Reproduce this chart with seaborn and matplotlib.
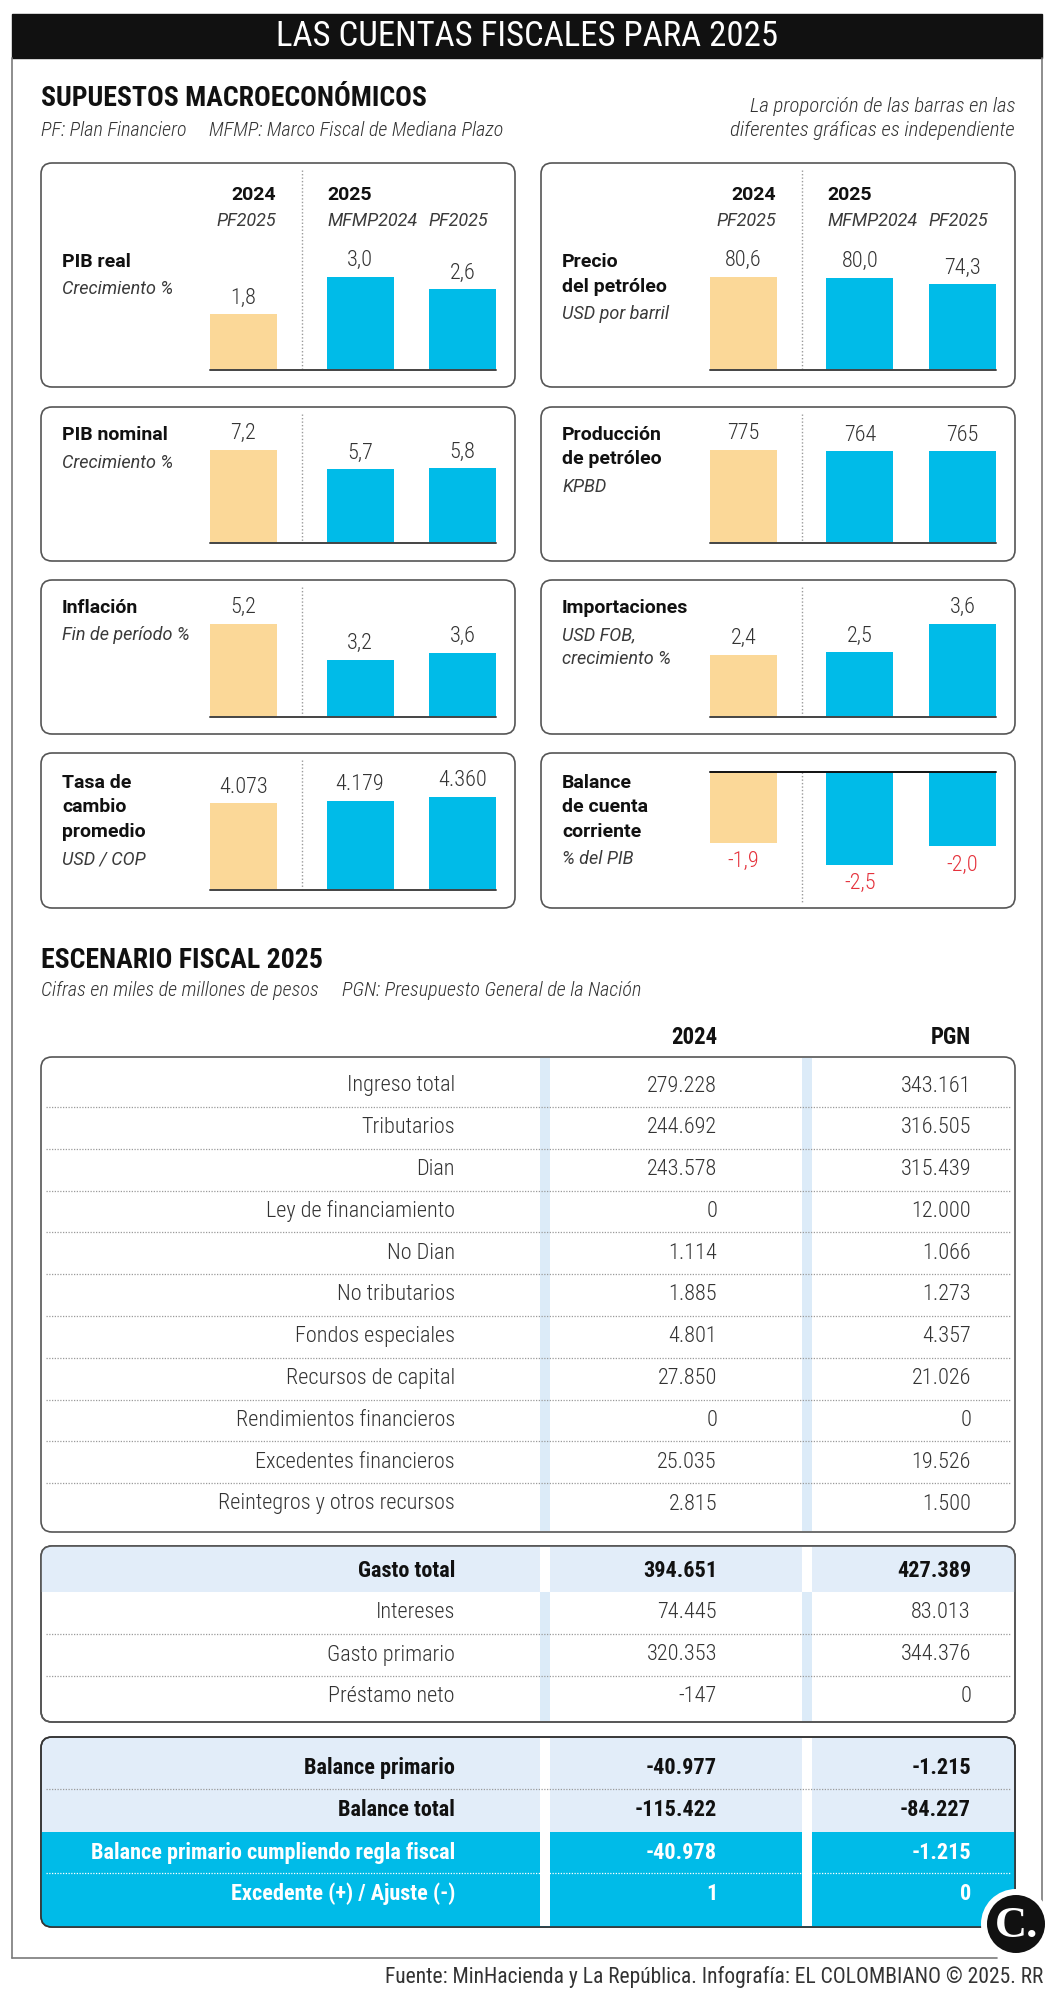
import numpy as np
import pandas as pd
import matplotlib
matplotlib.use("Agg")
import matplotlib.pyplot as plt
from matplotlib import font_manager as fm
from matplotlib.patches import FancyBboxPatch, Rectangle, Circle
import seaborn as sns

# ---------------- data ----------------
bar_years = ["2024", "2025", "2025"]
bar_sources = ["PF2025", "MFMP2024", "PF2025"]

pib_real = [1.8, 3.0, 2.6]
precio_petroleo = [80.6, 80.0, 74.3]
pib_nominal = [7.2, 5.7, 5.8]
produccion_petroleo = [775, 764, 765]
inflacion = [5.2, 3.2, 3.6]
importaciones = [2.4, 2.5, 3.6]
tasa_cambio = [4073, 4179, 4360]
balance_cuenta_corriente = [-1.9, -2.5, -2.0]

ingreso_labels = ["Ingreso total", "Tributarios", "Dian", "Ley de financiamiento", "No Dian",
                  "No tributarios", "Fondos especiales", "Recursos de capital",
                  "Rendimientos financieros", "Excedentes financieros", "Reintegros y otros recursos"]
ingreso_2024 = [279228, 244692, 243578, 0, 1114, 1885, 4801, 27850, 0, 25035, 2815]
ingreso_pgn = [343161, 316505, 315439, 12000, 1066, 1273, 4357, 21026, 0, 19526, 1500]

gasto_labels = ["Gasto total", "Intereses", "Gasto primario", "Préstamo neto"]
gasto_2024 = [394651, 74445, 320353, -147]
gasto_pgn = [427389, 83013, 344376, 0]

balance_labels = ["Balance primario", "Balance total",
                  "Balance primario cumpliendo regla fiscal", "Excedente (+) / Ajuste (-)"]
balance_2024 = [-40977, -115422, -40978, 1]
balance_pgn = [-1215, -84227, -1215, 0]

# ---------------- style ----------------
sns.set_theme(style="white")
avail = {f.name for f in fm.fontManager.ttflist}


def pick(*names):
    for n in names:
        if n in avail:
            return n
    return "DejaVu Sans"


COND = pick("Roboto Condensed", "Liberation Sans Narrow", "Roboto")
ROB = pick("Roboto", "DejaVu Sans")
SERIF = pick("Liberation Serif", "DejaVu Serif")
plt.rcParams["font.family"] = [COND, "DejaVu Sans"]

YELLOW = "#fbd898"
CYAN = "#00bbe8"
STRIPE = "#dcebf8"
BAND = "#e2edf9"
RED = "#e5323c"
DARK = "#1a1a1a"
GREY = "#333333"
PALETTE = {"2024": YELLOW, "2025": CYAN}

W, H = 1056, 2000
fig = plt.figure(figsize=(W / 100, H / 100), dpi=100)
fig.patch.set_facecolor("white")
bg = fig.add_axes([0, 0, 1, 1])
bg.set_xlim(0, W)
bg.set_ylim(H, 0)
bg.axis("off")


def px_axes(x0, y0, x1, y1):
    return fig.add_axes([x0 / W, 1 - y1 / H, (x1 - x0) / W, (y1 - y0) / H])


def T(x, y, s, size, family=None, weight="normal", style="normal", color=DARK,
      ha="left", va="center", z=10):
    fam = [family or COND, "DejaVu Sans"]
    return bg.text(x, y, s, fontsize=size, family=fam, weight=weight, style=style,
                   color=color, ha=ha, va=va, zorder=z)


def rpanel(x0, y0, x1, y1, fc="white", ec="#555555", lw=1.2, r=11, z=1):
    p = FancyBboxPatch((x0, y0), x1 - x0, y1 - y0,
                       boxstyle=f"round,pad=0,rounding_size={r}",
                       fc=fc, ec=ec, lw=lw, zorder=z)
    bg.add_patch(p)
    return p


def fmt_dec(v):
    return f"{v:.1f}".replace(".", ",")


def fmt_thou(v):
    s = f"{abs(v):,.0f}".replace(",", ".")
    return ("-" if v < 0 else "") + s


FMTS = {"dec": fmt_dec, "int": lambda v: f"{v:.0f}", "thou": fmt_thou}

# ---------------- title bar & frame ----------------
bg.add_patch(Rectangle((12, 14), 1030, 44, color="#111111", zorder=2))
T(527, 37, "LAS CUENTAS FISCALES PARA 2025", 25, color="white", ha="center")
fc_ = "#7a7a7a"
bg.plot([12, 12], [58, 1958], color=fc_, lw=1.2, zorder=2)
bg.plot([1042, 1042], [58, 1912], color=fc_, lw=1.2, zorder=2)
bg.plot([12, 997], [1958, 1958], color=fc_, lw=1.2, zorder=2)

# ---------------- section 1 headers ----------------
T(41, 99, "SUPUESTOS MACROECONÓMICOS", 20, weight="bold", color="#111111")
T(41, 130, "PF: Plan Financiero", 14.5, weight="light", style="italic", color=GREY)
T(209, 130, "MFMP: Marco Fiscal de Mediana Plazo", 14.5, weight="light", style="italic", color=GREY)
T(1015, 107, "La proporción de las barras en las", 15, weight="light", style="italic",
  color=GREY, ha="right")
T(1015, 130, "diferentes gráficas es independiente", 15, weight="light", style="italic",
  color=GREY, ha="right")

# ---------------- bar panels ----------------
panels = [
    dict(col=0, row=0, title=["PIB real"], sub=["Crecimiento %"], vals=pib_real, fmt="dec"),
    dict(col=1, row=0, title=["Precio", "del petróleo"], sub=["USD por barril"],
         vals=precio_petroleo, fmt="dec"),
    dict(col=0, row=1, title=["PIB nominal"], sub=["Crecimiento %"], vals=pib_nominal, fmt="dec"),
    dict(col=1, row=1, title=["Producción", "de petróleo"], sub=["KPBD"],
         vals=produccion_petroleo, fmt="int"),
    dict(col=0, row=2, title=["Inflación"], sub=["Fin de período %"], vals=inflacion, fmt="dec"),
    dict(col=1, row=2, title=["Importaciones"], sub=["USD FOB,", "crecimiento %"],
         vals=importaciones, fmt="dec"),
    dict(col=0, row=3, title=["Tasa de", "cambio", "promedio"], sub=["USD / COP"],
         vals=tasa_cambio, fmt="thou"),
    dict(col=1, row=3, title=["Balance", "de cuenta", "corriente"], sub=["% del PIB"],
         vals=balance_cuenta_corriente, fmt="dec"),
]

COL_X = [41, 541]
PANEL_W = 474
ROWS = [(163, 387, 370), (407, 561, 543), (580, 734, 717), (753, 908, 890)]
TITLE_Y = [262, 435, 608, 783]
BAR_POS = [202.5, 319.0, 421.5]
BAR_W = 67
BAR_MAX = 93
ZERO_Y = 772

for p in panels:
    px = COL_X[p["col"]]
    top, bot, base = ROWS[p["row"]]
    rpanel(px, top, px + PANEL_W, bot)
    vals = p["vals"]
    neg = min(vals) < 0

    # texts
    y = TITLE_Y[p["row"]]
    for line in p["title"]:
        T(px + 21, y, line, 14, family=ROB, weight="bold", color="#111111")
        y += 24.5
    y += 3
    for line in p["sub"]:
        T(px + 21, y, line, 13, family=ROB, weight="normal", style="italic", color="#3a3a3a")
        y += 23.5

    # divider
    if neg:
        bg.plot([px + 261] * 2, [ZERO_Y, bot - 5], color="#9a9a9a", lw=1,
                ls=(0, (1, 1.5)), zorder=3)
    else:
        bg.plot([px + 261] * 2, [top + 7, base], color="#9a9a9a", lw=1,
                ls=(0, (1, 1.5)), zorder=3)

    # bars
    if neg:
        ax = px_axes(px + 169, ZERO_Y, px + 455, ZERO_Y + BAR_MAX)
    else:
        ax = px_axes(px + 169, base - BAR_MAX, px + 455, base)
    df = pd.DataFrame({"pos": BAR_POS, "valor": vals, "anio": bar_years})
    sns.barplot(data=df, x="pos", y="valor", hue="anio", palette=PALETTE,
                native_scale=True, width=BAR_W / np.min(np.diff(BAR_POS)),
                dodge=False, legend=False, saturation=1, errorbar=None,
                linewidth=0, ax=ax)
    ax.set_xlim(169, 455)
    if neg:
        ax.set_ylim(min(vals), 0)
    else:
        ax.set_ylim(0, max(vals))
    ax.set_facecolor("none")
    ax.axis("off")
    ax.axhline(0, color="#111111" if neg else "#444444", lw=1.4, clip_on=False, zorder=5)
    f = FMTS[p["fmt"]]
    for bar in ax.patches:
        h = bar.get_height()
        if np.isnan(h) or bar.get_width() == 0:
            continue
        xc = bar.get_x() + bar.get_width() / 2
        if h < 0:
            ax.annotate(f(h), (xc, h), xytext=(0, -6), textcoords="offset points",
                        ha="center", va="top", fontsize=16, family=[COND, "DejaVu Sans"],
                        weight="light", color=RED, annotation_clip=False)
        else:
            ax.annotate(f(h), (xc, h), xytext=(0, 4), textcoords="offset points",
                        ha="center", va="bottom", fontsize=16, family=[COND, "DejaVu Sans"],
                        weight="light", color=GREY, annotation_clip=False)

    # column headers (first row)
    if p["row"] == 0:
        T(px + 235, 195, bar_years[0], 14, family=ROB, weight="bold", ha="right", color="#111111")
        T(px + 235, 221, bar_sources[0], 13, family=ROB, weight="normal", style="italic",
          ha="right", color="#3a3a3a")
        T(px + 286, 195, bar_years[1], 14, family=ROB, weight="bold", color="#111111")
        T(px + 286, 221, bar_sources[1], 13, family=ROB, weight="normal", style="italic",
          color="#3a3a3a")
        T(px + 387, 221, bar_sources[2], 13, family=ROB, weight="normal", style="italic",
          color="#3a3a3a")

# ---------------- section 2 ----------------
T(41, 961, "ESCENARIO FISCAL 2025", 20, weight="bold", color="#111111")
T(41, 990, "Cifras en miles de millones de pesos", 14.5, weight="light", style="italic", color=GREY)
T(342, 990, "PGN: Presupuesto General de la Nación", 14.5, weight="light", style="italic", color=GREY)

LX, C1, C2 = 455, 717, 971
T(C1, 1037, "2024", 16.5, weight="bold", ha="right", color="#111111")
T(C2, 1037, "PGN", 16.5, weight="bold", ha="right", color="#111111")

TX0, TX1 = 41, 1015
STR1 = (540, 10)
STR2 = (802, 10)
TS = 16


def dotted(y, color="#9a9a9a"):
    bg.plot([TX0 + 5, TX1 - 5], [y, y], color=color, lw=0.9, ls=(0, (1, 1.2)), zorder=4)


def row_text(y, label, v1, v2, weight="light", color=GREY):
    T(LX, y, label, TS, weight=weight, color=color, ha="right")
    T(C1, y, fmt_thou(v1), TS, weight=weight, color=color, ha="right")
    T(C2, y, fmt_thou(v2), TS, weight=weight, color=color, ha="right")


# panel 1: ingresos
p1_top, p1_bot = 1057, 1532
rpanel(TX0, p1_top, TX1, p1_bot, z=1)
for sx, sw in (STR1, STR2):
    bg.add_patch(Rectangle((sx, p1_top + 1), sw, p1_bot - p1_top - 2, fc=STRIPE, ec="none", zorder=1.5))
ROW_STEP = 41.8
for i, (lab, a, b) in enumerate(zip(ingreso_labels, ingreso_2024, ingreso_pgn)):
    y = 1086 + i * ROW_STEP
    row_text(y, lab, a, b)
    if i < len(ingreso_labels) - 1:
        dotted(y + ROW_STEP / 2)

# panel 2: gasto
p2_top, p2_bot = 1546, 1722
band_bot = 1592
p2 = rpanel(TX0, p2_top, TX1, p2_bot, z=1)
band = Rectangle((TX0, p2_top), TX1 - TX0, band_bot - p2_top, fc=BAND, ec="none", zorder=1.2)
bg.add_patch(band)
band.set_clip_path(p2)
for sx, sw in (STR1, STR2):
    bg.add_patch(Rectangle((sx, p2_top + 1), sw, band_bot - p2_top - 1, fc="white", ec="none", zorder=1.5))
    bg.add_patch(Rectangle((sx, band_bot), sw, p2_bot - band_bot - 1, fc=STRIPE, ec="none", zorder=1.5))
rpanel(TX0, p2_top, TX1, p2_bot, fc="none", z=3)
for i, (lab, a, b) in enumerate(zip(gasto_labels, gasto_2024, gasto_pgn)):
    y = 1571 + i * 42
    if i == 0:
        row_text(y, lab, a, b, weight="bold", color="#111111")
    else:
        row_text(y, lab, a, b)
        if i < len(gasto_labels) - 1:
            dotted(y + 21)

# panel 3: balance
p3_top, p3_bot = 1737, 1927
cyan_top = 1832
p3 = rpanel(TX0, p3_top, TX1, p3_bot, fc=BAND, z=1)
cy = Rectangle((TX0, cyan_top), TX1 - TX0, p3_bot - cyan_top, fc=CYAN, ec="none", zorder=1.2)
bg.add_patch(cy)
cy.set_clip_path(p3)
for sx, sw in (STR1, STR2):
    bg.add_patch(Rectangle((sx, p3_top + 1), sw, p3_bot - p3_top - 2, fc="white", ec="none", zorder=1.5))
rpanel(TX0, p3_top, TX1, p3_bot, fc="none", ec="#333333", z=3)
bal_y = [1768, 1810, 1853, 1894]
for i, (lab, a, b) in enumerate(zip(balance_labels, balance_2024, balance_pgn)):
    if i < 2:
        row_text(bal_y[i], lab, a, b, weight="bold", color="#111111")
    else:
        row_text(bal_y[i], lab, a, b, weight="bold", color="white")
dotted(1789)
dotted(1873, color="white")

# ---------------- footer & logo ----------------
foot = T(1043, 1977, "Fuente: MinHacienda y La República. Infografía: EL COLOMBIANO © 2025. RR", 15.5,
         color=GREY, ha="right")
bg.add_patch(Circle((1016, 1924), 35, fc="white", ec="none", zorder=6))
bg.add_patch(Circle((1016, 1924), 29, fc="#111111", ec="none", zorder=7))
bg.text(1017, 1926, "C.", fontsize=32, family=[SERIF, "DejaVu Serif"], weight="bold",
        color="white", ha="center", va="center", zorder=8)

# make sure the footer really ends at the frame's right edge
fig.canvas.draw()
bb = foot.get_window_extent(fig.canvas.get_renderer())
dx = 1043 - bb.x1
foot.set_x(foot.get_position()[0] + dx)

fig.savefig("out.png", dpi=100, facecolor="white")
